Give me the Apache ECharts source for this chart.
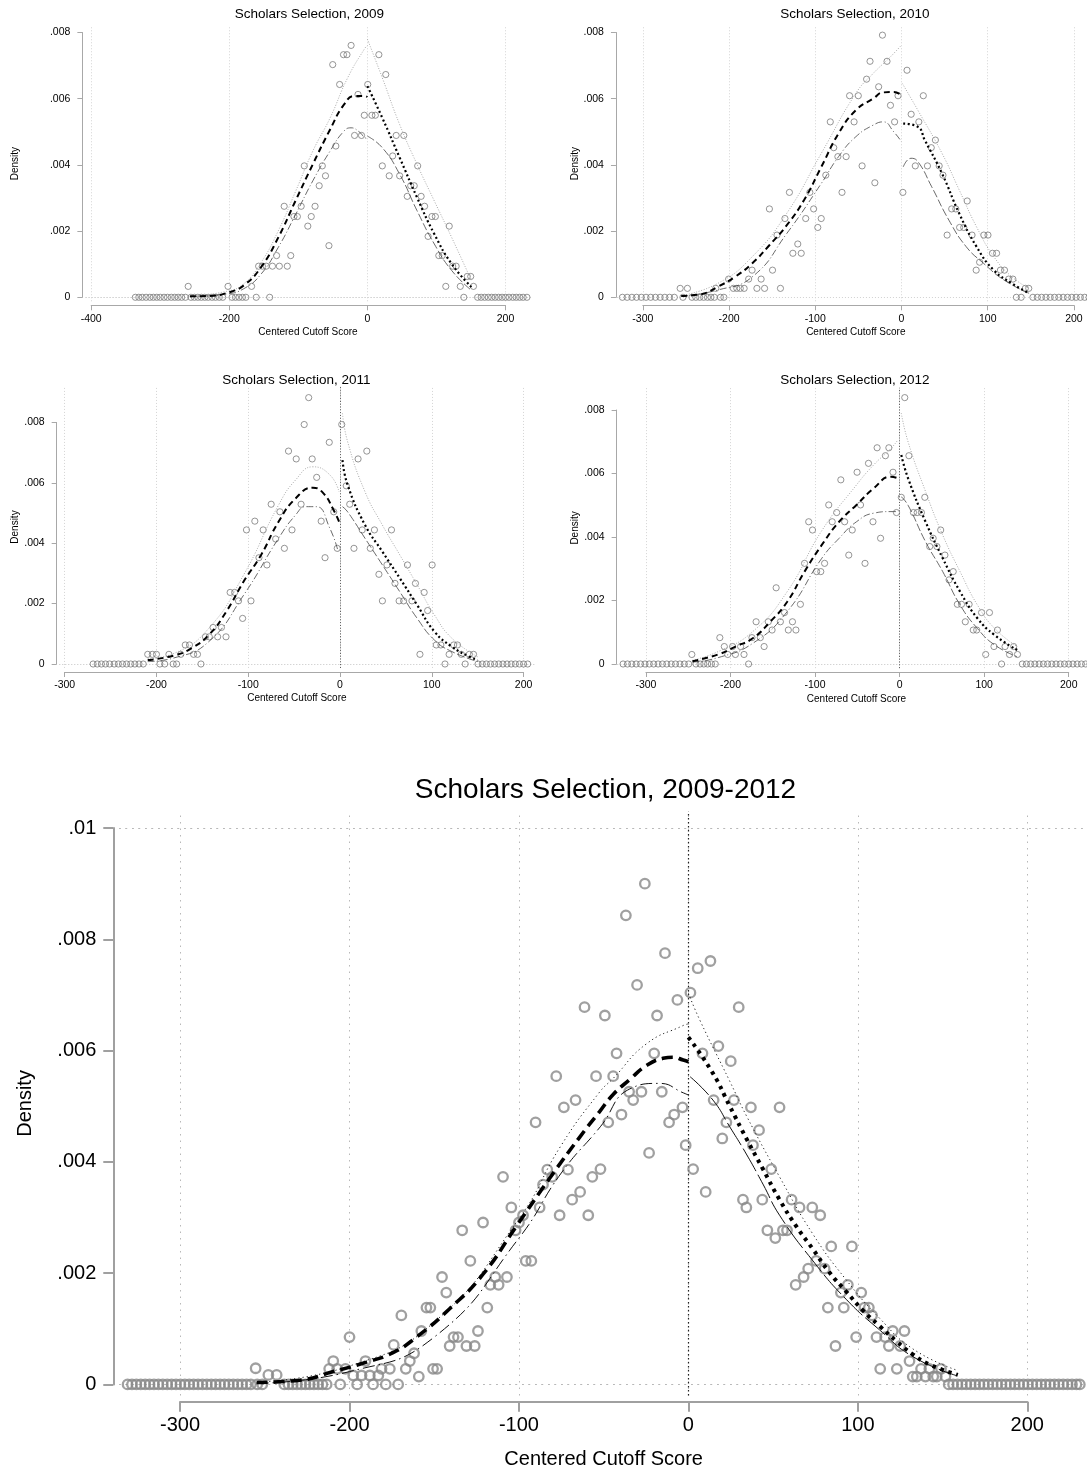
<!DOCTYPE html>
<html><head><meta charset="utf-8">
<script src="https://cdn.jsdelivr.net/npm/echarts@6/dist/echarts.min.js"></script>
<style>html,body{margin:0;padding:0;background:#fff}#c{width:1087px;height:1473px}</style>
</head><body><div id="c"></div>
<script>
// ---------------- DATA ----------------
const titles = ['Scholars Selection, 2009','Scholars Selection, 2010','Scholars Selection, 2011','Scholars Selection, 2012','Scholars Selection, 2009-2012'];
const xTitle = 'Centered Cutoff Score';
const yTitle = 'Density';
const xTicks2009 = [-400,-200,0,200];
const xTicks2010 = [-300,-200,-100,0,100,200];
const xTicks2011 = [-300,-200,-100,0,100,200];
const xTicks2012 = [-300,-200,-100,0,100,200];
const xTicksAll  = [-300,-200,-100,0,100,200];
const yTicksSmall = [0,0.002,0.004,0.006,0.008];
const yTicksAll   = [0,0.002,0.004,0.006,0.008,0.01];

const pts2009 = [[-336,0],[-331,0],[-326,0],[-320.5,0],[-315,0],[-310,0],[-305,0],[-300,0],[-294.5,0],[-289.5,0],[-284,0],[-279,0],[-274,0],[-269,0],[-263.5,0],
[-259.5,0.00033],[-255.5,0],[-250.5,0],[-245.5,0],[-240.5,0],[-235.5,0],[-230.5,0],[-225,0],[-220,0],[-214.5,0],[-209.5,0],
[-201.8,0.00033],[-196,0],[-191,0],[-186,0],[-181,0],[-176,0],
[-167.7,0.00033],[-161,0],[-157.5,0.00094],[-152,0.00094],[-146.5,0.00094],[-141.5,0],[-137.5,0.00094],[-131.5,0.00126],[-127.5,0.00094],[-120.5,0.00275],[-116,0.00094],[-111,0.00126],[-106.4,0.00244],[-101.4,0.00244],[-95.9,0.00275],[-91.4,0.00397],[-86.3,0.00215],[-81.3,0.00244],[-75.8,0.00275],[-69.8,0.00337],[-65.3,0.00397],[-60.7,0.00367],[-55.7,0.00156],[-50.2,0.00703],[-45.7,0.00457],[-40.2,0.00643],[-34.6,0.00733],[-29.6,0.00733],[-23.6,0.00761],[-18.6,0.00489],[-13.6,0.00613],[-8.5,0.00489],[-4.5,0.0055],[0.5,0.00643],[6.5,0.0055],[11.5,0.0055],[16.6,0.00733],[21.6,0.00397],[26.6,0.00673],[31.6,0.00367],[36.6,0.00427],[41.7,0.00489],[46.7,0.00367],[52.7,0.00489],[57.7,0.00305],[62.7,0.00337],[67.8,0.00337],[72.8,0.00397],[77.8,0.00305],[82.8,0.00275],[87.9,0.00184],[93.4,0.00244],[98.4,0.00244],[103.4,0.00126],[108.4,0.00126],[113.5,0.00033],[118.5,0.00215],[123.5,0.00094],[128.5,0.00094],[134.5,0.00033],[139.6,0],[144.6,0.00063],[149.6,0.00063],[153.6,0.00033],
[159.6,0],[164.7,0],[169.8,0],[175,0],[180,0],[185,0],[190,0],[195,0],[200,0],[205,0],[210.5,0],[215.5,0],[220.5,0],[225.5,0],[231,0]];
const fitL2009  = [[-257,0.00003],[-230,0.00004],[-199,0.00016],[-179,0.00036],[-154,0.00091],[-129,0.00181],[-104,0.00292],[-79,0.00402],[-54,0.00507],[-34,0.00582],[-18.6,0.00608],[-3.5,0.00608],[0,0.00605]];
const ciHiL2009 = [[-257,0.00003],[-204,0.00018],[-179,0.00041],[-154,0.00105],[-129,0.00201],[-104,0.0032],[-79,0.00442],[-54,0.00542],[-28.6,0.00663],[-3.5,0.00753],[0,0.0076]];
const ciLoL2009 = [[-257,0.00002],[-204,0.0001],[-179,0.00026],[-154,0.0007],[-129,0.00151],[-104,0.0025],[-79,0.00352],[-54,0.00442],[-34,0.00502],[-23.6,0.00512],[-12,0.005],[-3.5,0.00482],[0,0.0048]];
const fitR2009  = [[0,0.00638],[21.6,0.00542],[46.7,0.00422],[71.8,0.00302],[96.9,0.00191],[122,0.00101],[150.6,0.00031]];
const ciHiR2009 = [[0,0.0078],[21.6,0.00663],[46.7,0.00522],[71.8,0.00402],[96.9,0.00291],[122,0.00181],[150.6,0.00051]];
const ciLoR2009 = [[0,0.00487],[21.6,0.00452],[46.7,0.00372],[71.8,0.00262],[96.9,0.00161],[122,0.00081],[150.6,0.00021]];

const pts2010 = [[-323.7,0],[-318.2,0],[-312.7,0],[-307.3,0],[-301.8,0],[-296.3,0],[-290.9,0],[-285.4,0],[-279.9,0],[-274.5,0],[-269,0],[-263.5,0],
[-256.7,0.00027],[-253.5,0],[-248.3,0.00027],[-243,0],[-238.5,0],[-234,0],[-229.5,0],[-225,0],[-221,0],[-217,0],
[-215.4,0.00027],[-210,0],[-206,0],[-200.5,0.00055],[-195,0.00027],[-191,0.00027],[-187,0.00027],[-182.5,0.00027],[-177.3,0.00055],[-173.3,0.00082],[-167.7,0.00027],[-162.8,0.00055],[-158.8,0.00027],[-153.2,0.00267],[-149.6,0.00082],[-144.4,0.00188],[-140.4,0.00027],[-135.2,0.00238],[-130,0.00317],[-126,0.00133],[-120.3,0.00161],[-116.3,0.00133],[-111.1,0.00238],[-106.3,0.00317],[-101.9,0.00267],[-97.1,0.00211],[-93.1,0.00238],[-87.8,0.00369],[-82.6,0.0053],[-78.6,0.00452],[-73.8,0.00425],[-69,0.00317],[-64.2,0.00425],[-60.2,0.00609],[-55,0.0053],[-50.1,0.00609],[-45.7,0.00397],[-40.5,0.00659],[-36.5,0.00713],[-30.9,0.00346],[-26.5,0.00636],[-22.1,0.00792],[-16.8,0.00713],[-12.8,0.0058],[-8,0.0053],[-4,0.00609],[1.6,0.00317],[6.4,0.00686],[11.2,0.00553],[16,0.00397],[20.1,0.0053],[25.3,0.00609],[30.1,0.00397],[34.5,0.00452],[39.3,0.00475],[43.7,0.00397],[48.1,0.00369],[52.9,0.00188],[58.2,0.00267],[63,0.00267],[67.4,0.00211],[72.2,0.00211],[76.2,0.00291],[81.8,0.00188],[86.6,0.00082],[90.6,0.00106],[95.5,0.00188],[100.3,0.00188],[105.5,0.00133],[110.3,0.00133],[114.7,0.00082],[119.5,0.00082],[124.3,0.00055],[129.2,0.00055],[133.2,0],[138.8,0],[143.6,0.00027],[147.6,0.00027],
[152.4,0],[157.5,0],[162.5,0],[167.5,0],[172.5,0],[177.5,0],[182.5,0],[187.5,0],[192.5,0],[197.5,0],[202.5,0],[207.5,0],[212.5,0],[217.5,0],[222.5,0]];
const fitL2010  = [[-255.5,0.00004],[-233,0.00009],[-213,0.00032],[-193,0.00062],[-173,0.00103],[-153,0.00158],[-133,0.00218],[-113,0.00294],[-93,0.00394],[-73,0.00495],[-53,0.00565],[-33,0.006],[-21,0.00619],[-9,0.0062],[0,0.0061]];
const ciHiL2010 = [[-255.5,0.00005],[-213,0.00042],[-173,0.00123],[-133,0.00254],[-93,0.00435],[-53,0.00616],[-33,0.00676],[-13,0.00726],[0,0.00762]];
const ciLoL2010 = [[-255.5,0.00003],[-213,0.00022],[-173,0.00062],[-133,0.00193],[-93,0.00344],[-73,0.00425],[-53,0.00485],[-33,0.0052],[-21,0.0053],[-9,0.005],[0,0.0047]];
const fitR2010  = [[2,0.00525],[19,0.00515],[27,0.00475],[47,0.00374],[67,0.00253],[87,0.00153],[107,0.00082],[128,0.00042],[148,0.00012]];
const ciHiR2010 = [[1,0.00646],[19,0.00565],[47,0.00435],[67,0.00324],[87,0.00213],[107,0.00123],[128,0.00062],[148,0.00027]];
const ciLoR2010 = [[2,0.00394],[11,0.0042],[19,0.0041],[35,0.00334],[55,0.00233],[75,0.00153],[95,0.00103],[119,0.00052],[148,0.00012]];

const pts2011 = [[-269,0],[-264.5,0],[-260,0],[-255.5,0],[-251,0],[-246,0],[-241.5,0],[-237,0],[-232.5,0],[-228,0],[-223.5,0],[-219,0],[-214.4,0],
[-209.5,0.00032],[-204.5,0.00032],[-200,0.00032],[-196.2,0],[-191,0],[-186.4,0.00032],[-181.8,0],[-178,0],[-173.5,0.00032],[-168.6,0.00063],[-164,0.00063],[-159.5,0.00032],[-155.3,0.00032],[-151.5,0],[-146.6,0.0009],[-142.4,0.0009],[-138.3,0.00121],[-133.3,0.0009],[-129.2,0.00121],[-124.2,0.0009],[-119.7,0.00237],[-114.8,0.00237],[-110.6,0.00209],[-106.1,0.00151],[-101.9,0.00444],[-97,0.00209],[-92.8,0.00473],[-88.3,0.00352],[-83.7,0.00444],[-79.6,0.00328],[-75,0.00529],[-70.1,0.00414],[-65.5,0.00504],[-60.6,0.00383],[-56.1,0.00705],[-52.3,0.00444],[-47.7,0.00679],[-42.4,0.00529],[-39,0.00793],[-34.1,0.00882],[-30.3,0.00679],[-25.4,0.00618],[-20.5,0.00473],[-16.3,0.00352],[-11.7,0.00734],[-6.8,0.00504],[-3,0.00383],[1.9,0.00793],[6.8,0.0059],[10.6,0.00529],[15.2,0.00383],[19.7,0.00679],[24.2,0.00444],[29.2,0.00705],[33,0.00383],[37.5,0.00444],[42.4,0.00297],[46.2,0.00209],[51.1,0.00328],[56.1,0.00444],[59.9,0.00267],[64.4,0.00209],[69.3,0.00209],[73.5,0.00328],[78.4,0.00209],[82.2,0.00267],[87.1,0.00032],[91.7,0.00237],[95.5,0.00177],[100.4,0.00328],[104.9,0.00063],[109.9,0.00063],[114.4,0],[118.9,0.00032],[123.9,0.00063],[128,0.00063],[132.2,0.00032],[136.4,0],[140.9,0.00032],[145.5,0.00032],
[150.4,0],[155,0],[159.5,0],[164,0],[168.5,0],[173,0],[177.5,0],[182,0],[186.5,0],[191,0],[195.5,0],[200,0],[204.5,0]];
const fitL2011  = [[-209.5,0.00013],[-181,0.00028],[-162,0.00052],[-143,0.00096],[-124,0.00173],[-105,0.00273],[-86,0.00361],[-67,0.00471],[-48.5,0.00548],[-29.5,0.00584],[-18,0.00565],[-7,0.0051],[-1,0.00471]];
const ciHiL2011 = [[-209.5,0.00018],[-181,0.00035],[-143,0.00118],[-105,0.00295],[-67,0.00526],[-48.5,0.00609],[-29.5,0.00653],[-11,0.00626],[-1,0.0057]];
const ciLoL2011 = [[-209.5,0.00008],[-181,0.0002],[-143,0.00074],[-105,0.00228],[-67,0.00416],[-48.5,0.00493],[-37,0.00521],[-25.8,0.00521],[-11,0.00449],[-2,0.00372]];
const fitR2011  = [[2.7,0.00675],[8.3,0.00593],[27.3,0.0046],[46.2,0.00372],[65.2,0.00284],[84.1,0.00195],[103,0.00107],[122,0.00057],[141,0.00024],[150,0.00013]];
const ciHiR2011 = [[2.7,0.0083],[8.3,0.00736],[27.3,0.0057],[46.2,0.0046],[65.2,0.00361],[84.1,0.00262],[103,0.00162],[122,0.00085],[150,0.00024]];
const ciLoR2011 = [[2.7,0.00521],[8.3,0.00504],[27.3,0.00416],[46.2,0.00328],[65.2,0.00239],[84.1,0.00151],[103,0.00079],[122,0.00041],[150,0.00008]];

const pts2012 = [[-327,0],[-321.8,0],[-316.7,0],[-311.5,0],[-306.3,0],[-301.1,0],[-296,0],[-290.8,0],[-285.6,0],[-280.5,0],[-275.3,0],[-270.1,0],[-265,0],[-259.8,0],[-254.6,0],[-249.4,0],
[-245.7,0.0003],[-240.8,0],[-236,0],[-231.5,0],[-227,0],[-222.5,0],[-218,0],
[-212.6,0.00083],[-207.3,0.00055],[-203.2,0.0003],[-197.5,0.00055],[-194.2,0.0003],[-188,0.00055],[-184,0.0003],[-178.6,0],[-174.6,0.00083],[-169.7,0.00133],[-164.7,0.00083],[-160.2,0.00055],[-155.3,0.00133],[-150.8,0.00107],[-146,0.0024],[-141,0.00133],[-136.1,0.00162],[-131.6,0.00107],[-126.7,0.00133],[-122.6,0.00107],[-117.3,0.00188],[-112.4,0.00317],[-107.5,0.00448],[-103,0.00422],[-98.1,0.00291],[-93.2,0.00291],[-88.7,0.00317],[-83.8,0.00501],[-79.7,0.00448],[-74.4,0.00477],[-69.5,0.0058],[-65,0.00448],[-60.1,0.00343],[-56,0.00422],[-50.3,0.00604],[-46.2,0.00501],[-40.9,0.00317],[-36.8,0.00632],[-31.5,0.00448],[-26.6,0.00681],[-22.5,0.00396],[-16.8,0.00656],[-12.7,0.00681],[-7.8,0.00604],[-3.7,0.00477],[2,0.00525],[6.1,0.00839],[11,0.00656],[16.4,0.00477],[20.8,0.00477],[25.8,0.00477],[29.8,0.00525],[35.6,0.0037],[39.7,0.00396],[44.1,0.0037],[48.6,0.00422],[53.6,0.00343],[58.5,0.00265],[63.4,0.00291],[68.3,0.00188],[73.2,0.00188],[77.7,0.00133],[82.2,0.00188],[87.1,0.00107],[91.2,0.00107],[96.9,0.00162],[101.8,0.0003],[106.3,0.00162],[111.6,0.00055],[115.7,0.00107],[120.6,0],[124.7,0.00055],[130,0.0003],[134.9,0.00055],[139.4,0.0003],
[145.1,0],[150,0],[155,0],[160,0],[165,0],[170,0],[175,0],[180,0],[185,0],[190,0],[195,0],[200,0],[205,0],[210,0],[215,0],[220,0],[225,0],[230,0]];
const fitL2012  = [[-245,0.00009],[-214.6,0.0003],[-194,0.00055],[-173.7,0.00081],[-153,0.00133],[-132.9,0.00196],[-112.4,0.00291],[-92,0.00375],[-71.5,0.00448],[-51,0.00501],[-30.7,0.00553],[-10.2,0.0059],[-2,0.00585]];
const ciHiL2012 = [[-245,0.00012],[-214.6,0.00039],[-173.7,0.00102],[-132.9,0.00228],[-92,0.0042],[-51,0.00564],[-30.7,0.00627],[-10.2,0.00679],[-2,0.00706]];
const ciLoL2012 = [[-245,0.00006],[-214.6,0.0002],[-173.7,0.00065],[-132.9,0.00165],[-92,0.00333],[-71.5,0.00396],[-51,0.00448],[-30.7,0.00475],[-10.2,0.0048],[-2,0.0048]];
const fitR2012  = [[2,0.00658],[10,0.00585],[30.7,0.00448],[51,0.00333],[71.5,0.00228],[92,0.00144],[112.4,0.00091],[139,0.00044]];
const ciHiR2012 = [[2,0.0079],[10,0.007],[30.7,0.00543],[51,0.00406],[71.5,0.00291],[92,0.00186],[112.4,0.00112],[139,0.00055]];
const ciLoR2012 = [[2,0.00527],[10,0.005],[30.7,0.00385],[51,0.00291],[71.5,0.00186],[92,0.00112],[112.4,0.0006],[139,0.00023]];

const ptsAll = [[-331,0],[-328.4,0],[-325.8,0],[-323.2,0],[-320.6,0],[-318,0],[-315.4,0],[-312.8,0],[-310.2,0],[-307.6,0],[-305,0],[-302.4,0],[-299.8,0],[-297.2,0],[-294.6,0],[-292,0],[-289.4,0],[-286.8,0],[-284.2,0],[-281.6,0],[-279,0],[-276.4,0],[-273.8,0],[-271.2,0],[-268.6,0],[-266,0],[-263.4,0],[-260.8,0],[-258.2,0],
[-255.4,0.00029],[-247.9,0.00017],[-243,0.00017],[-254.5,0],[-251.5,0],[-238.5,0],[-236,0],[-233.5,0],[-231,0],[-228.5,0],[-226,0],[-223.5,0],[-221,0],[-218.5,0],[-216,0],[-213.5,0],
[-212,0.00028],[-209.6,0.00042],[-207.3,0.00028],[-205.5,0],[-202.4,0.00028],[-200,0.00085],[-197.8,0.00016],[-195.5,0],[-192.9,0.00016],[-190.6,0.00042],[-188,0.00016],[-186.1,0],[-183,0.00016],[-181.1,0.00028],[-178.6,0],[-176.2,0.00028],[-173.9,0.00071],[-171.3,0],[-169.4,0.00124],[-166.8,0.00028],[-164.4,0.00042],[-161.9,0.00056],[-159.1,0.00014],[-157.6,0.00096],[-154.6,0.00138],[-152.3,0.00138],[-150.7,0.00028],[-148.3,0.00028],[-145.4,0.00193],[-142.9,0.00165],[-140.9,0.00069],[-138.6,0.00085],[-136,0.00085],[-133.5,0.00277],[-131,0.00069],[-128.7,0.00222],[-126.1,0.00069],[-124.2,0.00096],[-121.2,0.00291],[-118.7,0.00138],[-116.9,0.00179],[-114,0.00193],[-112,0.00179],[-109.4,0.00373],[-107.1,0.00193],[-104.5,0.00318],[-102,0.00277],[-100,0.00291],[-97.6,0.00304],[-96,0.00222],[-92.7,0.00222],[-90.2,0.00471],[-87.8,0.00318],[-85.8,0.00359],[-83.3,0.00386],[-80.4,0.00373],[-78,0.00554],[-76,0.00304],[-73.5,0.00498],[-71.1,0.00386],[-68.6,0.00332],[-66.6,0.00511],[-63.9,0.00346],[-61.3,0.00678],[-59.1,0.00304],[-56.7,0.00373],[-54.5,0.00554],[-51.9,0.00387],[-49.3,0.00663],[-47.3,0.00471],[-44.4,0.00554],[-42.4,0.00595],[-39.5,0.00485],[-36.9,0.00843],[-35,0.00526],[-32.6,0.00511],[-30.3,0.00718],[-27.7,0.00526],[-25.7,0.009],[-23.2,0.00416],[-20.2,0.00595],[-18.5,0.00663],[-15.7,0.00526],[-13.8,0.00775],[-11.4,0.00471],[-8.4,0.00485],[-6.5,0.00691],[-3.5,0.00498],[-1.6,0.0043],[1.2,0.00704],[2.8,0.00387],[5.5,0.00748],[8.3,0.00595],[10.2,0.00346],[13,0.00761],[14.9,0.00511],[17.7,0.00608],[20,0.00442],[22.4,0.00471],[25,0.00581],[26.9,0.00511],[29.7,0.00678],[32.2,0.00332],[34.2,0.00318],[36.9,0.00498],[38.1,0.0043],[41.7,0.00457],[43.6,0.00332],[46.6,0.00277],[48.9,0.00387],[51.3,0.00263],[53.8,0.00498],[55.8,0.00277],[58.2,0.00277],[60.9,0.00332],[63.3,0.00179],[65.6,0.00318],[68,0.00193],[70.7,0.00208],[73.1,0.00318],[75.4,0.00222],[77.8,0.00304],[80.4,0.00208],[82.3,0.00138],[84.3,0.00248],[86.8,0.00069],[90,0.00165],[91.7,0.00138],[94.1,0.00179],[96.5,0.00248],[99,0.00085],[102,0.00165],[103.9,0.00138],[106.5,0.00138],[108.4,0.00124],[111,0.00085],[113.2,0.00028],[116.1,0.00085],[118.3,0.00069],[120.6,0.00096],[123,0.00028],[125,0.00069],[127.5,0.00096],[130.5,0.00042],[132.4,0.00014],[134.8,0.00014],[137.3,0.00028],[139.9,0.00014],[142.2,0.00028],[144.5,0.00014],[146.6,0.00014],[149.1,0.00028],[151.7,0.00014],[153.6,0],
[156.2,0],[158.8,0],[161.4,0],[164,0],[166.6,0],[169.2,0],[171.8,0],[174.4,0],[177,0],[179.6,0],[182.2,0],[184.8,0],[187.4,0],[190,0],[192.6,0],[195.2,0],[197.8,0],[200.4,0],[203,0],[205.6,0],[208.2,0],[210.8,0],[213.4,0],[216,0],[218.6,0],[221.2,0],[223.8,0],[226.4,0],[229,0],[231,0]];
const fitLAll  = [[-254.8,0.000034],[-229.3,0.000076],[-209.6,0.00023],[-190,0.0004],[-174.3,0.00057],[-160.5,0.00085],[-140.9,0.00136],[-121.2,0.00198],[-101.6,0.00284],[-82,0.0037],[-64,0.00445],[-52.5,0.0049],[-44.4,0.00521],[-34.6,0.00548],[-24.8,0.00573],[-15,0.00586],[-9,0.00588],[-3.1,0.00583],[0,0.0058]];
const ciHiLAll = [[-254.8,0.00004],[-200,0.00033],[-150,0.00112],[-100,0.00298],[-75,0.0043],[-52.5,0.00525],[-44.4,0.0055],[-24.8,0.00612],[-3.1,0.00645],[0,0.00648]];
const ciLoLAll = [[-254.8,0.00002],[-200,0.00023],[-150,0.00085],[-100,0.00263],[-75,0.0038],[-52,0.00463],[-34.6,0.00531],[-17,0.00541],[-3,0.00524],[0,0.0052]];
const fitRAll  = [[0,0.00624],[14.5,0.00559],[24.4,0.005],[34.2,0.00442],[44,0.00387],[53.8,0.00332],[63.7,0.00284],[73.5,0.00243],[83.3,0.00201],[93.1,0.00167],[103,0.00133],[112.8,0.00105],[122.6,0.00078],[132.4,0.00054],[142.2,0.00036],[159,0.00017]];
const ciHiRAll = [[0,0.00703],[6.7,0.00655],[24.4,0.00545],[34.2,0.00483],[53.8,0.00373],[73.5,0.0027],[93.1,0.00188],[112.8,0.00119],[132.4,0.00064],[158,0.00026]];
const ciLoRAll = [[1,0.00553],[14.5,0.00511],[24.4,0.00463],[34.2,0.00414],[44,0.0036],[53.8,0.00304],[73.5,0.00222],[93.1,0.00153],[112.8,0.00098],[132.4,0.0005],[158,0.00016]];

// ---------------- LAYOUT / STYLE ----------------
const FONT = '"Liberation Sans", Arial, Helvetica, sans-serif';
const small = {tickFont:10.5, nameFont:10, titleFont:13.5, tickLen:5, xLabMargin:8, yLabMargin:12,
  axisColor:'#a8a8a8', axisW:1, gridColor:'#d4d4d4', gridDash:[1,2], ptSize:6.2, ptBorder:1, ptColor:'#7a7a7a',
  fitW:2, fitDash:[6,4], dotW:2.2, dotDash:[2,2.6], hiColor:'#a0a0a0', hiW:0.9, hiDash:[1,1.6],
  loColor:'#444', loW:0.8, loDashL:[7,2.5,1,2.5], loDashR:[8,2.5], zeroLine:null};
const big = {tickFont:20, nameFont:20, titleFont:28, tickLen:10, xLabMargin:14, yLabMargin:17,
  axisColor:'#a0a0a0', axisW:2, gridColor:'#b8b8b8', gridDash:[1.5,5], ptSize:9.5, ptBorder:2.3, ptColor:'#888',
  fitW:3.6, fitDash:[11,6], dotW:4, dotDash:[3.5,4.8], hiColor:'#222', hiW:1, hiDash:[1.2,3],
  loColor:'#111', loW:1, loDashL:[12,4,1.5,4], loDashR:[26,4], zeroLine:{color:'#222', type:[1.5,2.5], width:1.2}};
const layouts = [
  {s:small, px0:367.4, kx:0.6906, py0:297.3, ky:33100, xr:[-408,236], yr:[-0.00012,0.0082], xOff:8, yOff:8.8, xGap:26, yGap:65, title:[309.3,14], zeroDark:false},
  {s:small, px0:901.5, kx:0.8622, py0:297.3, ky:33100, xr:[-330,224], yr:[-0.00012,0.0082], xOff:8, yOff:26.9, xGap:26, yGap:36.6, title:[854.9,14], zeroDark:false},
  {s:small, px0:340, kx:0.9178, py0:664, ky:30200, xr:[-306,212], yr:[-0.00013,0.0092], xOff:8, yOff:8, xGap:25.6, yGap:38.6, title:[296.3,380], zeroDark:true},
  {s:small, px0:899.6, kx:0.8456, py0:664, ky:31750, xr:[-334,232], yr:[-0.00013,0.0087], xOff:8, yOff:29.3, xGap:26, yGap:36.8, title:[854.9,380], zeroDark:true},
  {s:big, px0:688.4, kx:1.6944, py0:1384.4, ky:55640, xr:[-336,236], yr:[-0.0002,0.0103], xOff:17.3, yOff:66.8, xGap:53.5, yGap:84, title:[605.5,790.7], zeroDark:true}
];
const panels = [
  {pts:pts2009, fitL:fitL2009, ciHiL:ciHiL2009, ciLoL:ciLoL2009, fitR:fitR2009, ciHiR:ciHiR2009, ciLoR:ciLoR2009, xTicks:xTicks2009, yTicks:yTicksSmall},
  {pts:pts2010, fitL:fitL2010, ciHiL:ciHiL2010, ciLoL:ciLoL2010, fitR:fitR2010, ciHiR:ciHiR2010, ciLoR:ciLoR2010, xTicks:xTicks2010, yTicks:yTicksSmall},
  {pts:pts2011, fitL:fitL2011, ciHiL:ciHiL2011, ciLoL:ciLoL2011, fitR:fitR2011, ciHiR:ciHiR2011, ciLoR:ciLoR2011, xTicks:xTicks2011, yTicks:yTicksSmall},
  {pts:pts2012, fitL:fitL2012, ciHiL:ciHiL2012, ciLoL:ciLoL2012, fitR:fitR2012, ciHiR:ciHiR2012, ciLoR:ciLoR2012, xTicks:xTicks2012, yTicks:yTicksSmall},
  {pts:ptsAll, fitL:fitLAll, ciHiL:ciHiLAll, ciLoL:ciLoLAll, fitR:fitRAll, ciHiR:ciHiRAll, ciLoR:ciLoRAll, xTicks:xTicksAll, yTicks:yTicksAll}
];

const fmtY = v => v === 0 ? '0' : String(+v.toFixed(4)).replace(/^0\./, '.');

const grid = [], xAxis = [], yAxis = [], series = [], graphic = [];
panels.forEach((p, i) => {
  const L = layouts[i], s = L.s;
  const px = x => L.px0 + L.kx * x;
  const py = y => L.py0 - L.ky * y;
  const gd = 2 * i, gs = 2 * i + 1;
  const xt0 = p.xTicks[0], xt1 = p.xTicks[p.xTicks.length - 1];
  const yt0 = p.yTicks[0], yt1 = p.yTicks[p.yTicks.length - 1];
  grid.push({left: px(L.xr[0]), top: py(L.yr[1]), width: px(L.xr[1]) - px(L.xr[0]), height: py(L.yr[0]) - py(L.yr[1]), containLabel:false, outerBoundsMode:'none'});
  grid.push({left: px(xt0), top: py(yt1), width: px(xt1) - px(xt0), height: py(yt0) - py(yt1), containLabel:false, outerBoundsMode:'none'});
  const nameStyle = {fontFamily:FONT, fontSize:s.nameFont, color:'#000'};
  xAxis.push({gridIndex:gd, type:'value', min:L.xr[0], max:L.xr[1], axisLine:{show:false, onZero:false}, axisTick:{show:false}, axisLabel:{show:false}, splitLine:{show:false},
    name:xTitle, nameLocation:'middle', nameGap:L.xGap, nameTextStyle:nameStyle});
  yAxis.push({gridIndex:gd, type:'value', min:L.yr[0], max:L.yr[1], axisLine:{show:false, onZero:false}, axisTick:{show:false}, axisLabel:{show:false}, splitLine:{show:false},
    name:yTitle, nameLocation:'middle', nameGap:L.yGap, nameTextStyle:nameStyle});
  const axLine = {show:true, onZero:false, lineStyle:{color:s.axisColor, width:s.axisW}};
  const axTick = {show:true, inside:false, length:s.tickLen, lineStyle:{color:s.axisColor, width:s.axisW}};
  xAxis.push({gridIndex:gs, type:'value', position:'bottom', offset:L.xOff, min:xt0, max:xt1, interval:p.xTicks[1]-p.xTicks[0],
    axisLine:axLine, axisTick:axTick, splitLine:{show:false},
    axisLabel:{fontFamily:FONT, fontSize:s.tickFont, color:'#000', margin:s.xLabMargin, showMinLabel:true, showMaxLabel:true}});
  yAxis.push({gridIndex:gs, type:'value', position:'left', offset:L.yOff, min:yt0, max:yt1, interval:p.yTicks[1]-p.yTicks[0],
    axisLine:axLine, axisTick:axTick, splitLine:{show:false},
    axisLabel:{fontFamily:FONT, fontSize:s.tickFont, color:'#000', margin:s.yLabMargin, formatter:fmtY, showMinLabel:true, showMaxLabel:true}});
  const mlData = p.xTicks.map(v => ({xAxis:v})).concat(p.yTicks.map(v => ({yAxis:v})));
  if (L.zeroDark && s.zeroLine) mlData.push({xAxis:0, lineStyle:s.zeroLine});
  if (L.zeroDark && !s.zeroLine) mlData.push({xAxis:0, lineStyle:{color:'#555', type:[1,1.8], width:1}});
  series.push({type:'line', xAxisIndex:gd, yAxisIndex:gd, data:[], silent:true, z:1,
    markLine:{silent:true, z:1, symbol:['none','none'], label:{show:false}, animation:false,
      lineStyle:{color:s.gridColor, type:s.gridDash, width:1}, data:mlData}});
  series.push({type:'scatter', xAxisIndex:gd, yAxisIndex:gd, data:p.pts, symbol:'circle', symbolSize:s.ptSize, clip:false, silent:true, z:2,
    itemStyle:{color:'rgba(0,0,0,0)', borderColor:s.ptColor, borderWidth:s.ptBorder}});
  const ln = (data, color, width, type, z) => ({type:'line', xAxisIndex:gd, yAxisIndex:gd, data, showSymbol:false, symbol:'none', smooth:0.5,
    clip:false, silent:true, z, lineStyle:{color, width, type, cap:'butt'}});
  series.push(ln(p.ciHiL, s.hiColor, s.hiW, s.hiDash, 3));
  series.push(ln(p.ciLoL, s.loColor, s.loW, s.loDashL, 3));
  series.push(ln(p.ciHiR, s.hiColor, s.hiW, s.hiDash, 3));
  series.push(ln(p.ciLoR, s.loColor, s.loW, s.loDashR, 3));
  series.push(ln(p.fitL, '#000', s.fitW, s.fitDash, 4));
  series.push(ln(p.fitR, '#000', s.dotW, s.dotDash, 4));
  graphic.push({type:'text', x:L.title[0], y:L.title[1], silent:true,
    style:{text:titles[i], fontFamily:FONT, fontSize:s.titleFont, fill:'#000', align:'center', verticalAlign:'middle', textAlign:'center', textVerticalAlign:'middle'}});
});

const chart = echarts.init(document.getElementById('c'), null, {renderer:'canvas'});
chart.setOption({animation:false, backgroundColor:'#fff', grid, xAxis, yAxis, series, graphic});
</script>
</body></html>
